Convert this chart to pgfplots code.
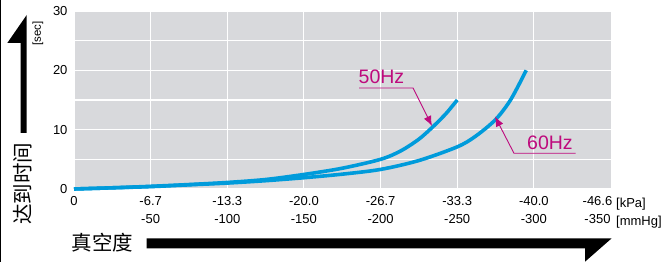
\documentclass[border=0pt]{standalone}
\usepackage{pgfplots}
\pgfplotsset{compat=1.18}
\usepackage{fontspec}
\setmainfont{Liberation Sans}
\newfontfamily\cjk{Noto Sans CJK SC}
\usetikzlibrary{arrows.meta}
\definecolor{curveblue}{HTML}{009BDB}
\definecolor{annmag}{HTML}{BE0A7D}
\definecolor{bggray}{HTML}{D8D9DC}
\begin{document}
\begin{tikzpicture}[x=1pt,y=1pt]
\path[use as bounding box] (0,0) rectangle (664,262);
\begin{axis}[
  at={(74pt,73pt)}, anchor=south west,
  scale only axis, width=536.5pt, height=178pt,
  xmin=0, xmax=350, ymin=0, ymax=30,
  axis background/.style={fill=bggray},
  axis line style={draw=none},
  major tick length=0pt,
  grid=major,
  major grid style={white, line width=1.1pt},
  xtick={0,50,100,150,200,250,300},
  xticklabels={0,{-6.7\\-50},{-13.3\\-100},{-20.0\\-150},{-26.7\\-200},{-33.3\\-250},{-40.0\\-300}},
  extra x ticks={350},
  extra x tick labels={{-46.6\\-350}},
  extra x tick style={grid=none, xticklabel style={xshift=-13pt}},
  xticklabel style={align=center, font=\fontsize{13}{18.8}\selectfont, yshift=-3.5pt},
  ytick={0,5,10,15,20,25,30},
  yticklabels={0,,10,,20,,30},
  yticklabel style={font=\fontsize{13}{15}\selectfont, xshift=-3pt},
  /pgf/number format/assume math mode=true,
  clip=false,
]
\addplot[curveblue, line width=3.6pt, smooth] coordinates {
(0,0) (25,0.2) (50,0.45) (75,0.75) (100,1.1) (125,1.6) (150,2.45) (175,3.5) (200,5.0) (213,6.4) (225,8.4) (235,10.7) (243,12.8) (250,15)
};
\addplot[curveblue, line width=3.6pt, smooth] coordinates {
(0,0) (25,0.2) (50,0.4) (75,0.7) (100,1.0) (125,1.4) (150,1.9) (175,2.5) (200,3.3) (225,4.8) (250,7.1) (262,8.9) (275,11.7) (285,15.1) (295,20)
};
\end{axis}
% left frame line
\draw[line width=1pt] (0.5,0) -- (0.5,262);
% annotations
\draw[annmag, line width=0.9pt, -{Latex[length=10pt,width=8pt]}] (359,174) -- (413,174) -- (432,136);
\node[annmag, anchor=base west, inner sep=0pt, font=\fontsize{19.5}{20}\selectfont] at (358.5,178.7) {50Hz};
\draw[annmag, line width=0.9pt, -{Latex[length=10pt,width=8pt]}] (575.5,108.7) -- (514,108.7) -- (495,145.5);
\node[annmag, anchor=base west, inner sep=0pt, font=\fontsize{19.5}{20}\selectfont] at (527,112.7) {60Hz};
% units
\node[anchor=west, inner sep=0pt, font=\fontsize{13}{15}\selectfont] at (616,58) {[kPa]};
\node[anchor=west, inner sep=0pt, font=\fontsize{13}{15}\selectfont] at (616,39.7) {[mmHg]};
\node[rotate=90, inner sep=0pt, font=\fontsize{11.5}{14}\selectfont] at (38,228.5) {[sec]};
% big arrows
\fill (26.7,129) -- (26.7,247) -- (7.3,219) -- (20.7,219) -- (20.7,129) -- cycle;
\fill (146.7,23.7) -- (611.7,23.7) -- (585,0.3) -- (585,13.7) -- (146.7,13.7) -- cycle;
% axis titles
\node[rotate=90, inner sep=0pt, font=\cjk\fontsize{20.5}{22}\selectfont] at (23,78) {达到时间};
\node[inner sep=0pt, font=\cjk\fontsize{20.5}{22}\selectfont] at (102.5,19.5) {真空度};
\end{tikzpicture}
\end{document}
